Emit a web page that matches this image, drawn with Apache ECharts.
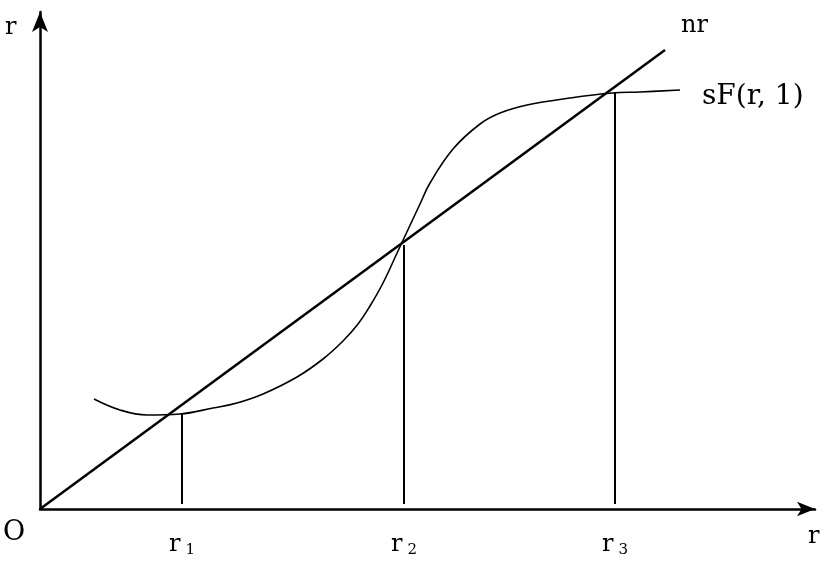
<!DOCTYPE html>
<html>
<head>
<meta charset="utf-8">
<script src="https://cdn.jsdelivr.net/npm/echarts@6/dist/echarts.min.js"></script>
<style>html,body{margin:0;padding:0;background:#fff;}#c{width:828px;height:561px;}</style>
</head>
<body>
<div id="c"></div>
<script>
// schematic units (origin at O)
var nrX = [0, 625];
var nrY = [0, 459];
var sfX = [54, 80, 107, 140, 173, 197, 223, 257, 283, 303, 318, 330, 343, 358, 380, 390, 413, 440, 460, 487, 530, 572, 600, 640];
var sfY = [110, 99, 94, 95, 101, 106, 115, 132, 150, 168, 185, 203, 226, 258, 305, 326, 360, 385, 396, 404, 411, 416, 417, 419];
var rootX = [142, 364, 575];
var rootY = [95, 264, 417];
var rootBase = 5;
var rootLabels = ['1', '2', '3'];

var FONT = 'DejaVu Serif';
var chart = echarts.init(document.getElementById('c'));

function pairs(xs, ys) { return xs.map(function (x, i) { return [x, ys[i]]; }); }

var series = [
  {
    type: 'line', data: pairs(nrX, nrY), symbol: 'none',
    lineStyle: { color: '#000', width: 2.5 },
    endLabel: { show: true, formatter: 'nr', color: '#000', fontFamily: FONT, fontSize: 24, offset: [8, -24] }
  },
  {
    type: 'line', data: pairs(sfX, sfY), symbol: 'none', smooth: 0.4,
    lineStyle: { color: '#000', width: 1.6 },
    endLabel: { show: true, formatter: 'sF(r, 1)', color: '#000', fontFamily: FONT, fontSize: 28, offset: [14, 7] }
  }
];
rootX.forEach(function (x, i) {
  series.push({
    type: 'line', data: [[x, rootY[i]], [x, rootBase]], symbol: 'none',
    lineStyle: { color: '#000', width: 2 }
  });
});

chart.setOption({
  animation: false,
  backgroundColor: '#fff',
  grid: { left: 40, right: 13, top: 12, bottom: 52 },
  xAxis: {
    type: 'value', min: 0, max: 775,
    splitLine: { show: false },
    axisTick: { show: false },
    axisLine: { lineStyle: { color: '#000', width: 2.5 }, symbol: ['none', 'arrow'], symbolSize: [11, 18] },
    axisLabel: {
      customValues: rootX,
      margin: 22,
      formatter: function (v) {
        var i = rootX.indexOf(v);
        return '{a|r}{s|' + rootLabels[i] + '}';
      },
      rich: {
        a: { fontFamily: FONT, fontSize: 24, color: '#000' },
        s: { fontFamily: FONT, fontSize: 15, color: '#000', padding: [12, 0, 0, 5] }
      }
    }
  },
  yAxis: {
    type: 'value', min: 0, max: 497,
    splitLine: { show: false },
    axisTick: { show: false },
    axisLabel: { show: false },
    axisLine: { lineStyle: { color: '#000', width: 2.5 }, symbol: ['none', 'arrow'], symbolSize: [12, 20] }
  },
  graphic: [
    { type: 'text', left: 5, top: 16, style: { text: 'r', font: '24px "DejaVu Serif"', fill: '#000' } },
    { type: 'text', left: 3, top: 519, style: { text: 'O', font: '27px "DejaVu Serif"', fill: '#000' } },
    { type: 'text', left: 808, top: 525, style: { text: 'r', font: '24px "DejaVu Serif"', fill: '#000' } }
  ],
  series: series
});
</script>
</body>
</html>
